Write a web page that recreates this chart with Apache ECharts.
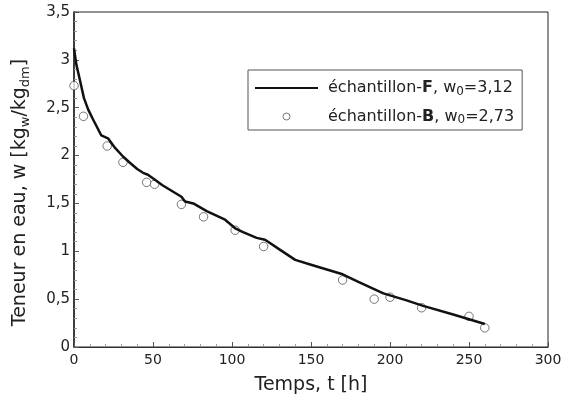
<!DOCTYPE html>
<html><head><meta charset="utf-8">
<script src="https://cdn.jsdelivr.net/npm/echarts@6/dist/echarts.min.js"></script>
<style>html,body{margin:0;padding:0;background:#fff}#c{width:570px;height:400px}</style>
</head><body><div id="c"></div>
<script>
var lineT = [0,1.5,3.6,6.3,9,12,17.3,21.5,26,31,35,40,43.7,46.8,51,56,62,68,70.3,75.5,84,95.6,102,107,115.6,120.9,130,140,150,160,170,180,195.8,210,221,240,260];
var lineW = [3.12,2.95,2.80,2.60,2.48,2.38,2.21,2.18,2.08,1.99,1.93,1.86,1.82,1.80,1.75,1.69,1.63,1.57,1.52,1.50,1.42,1.33,1.24,1.20,1.14,1.12,1.02,0.91,0.86,0.81,0.76,0.68,0.56,0.49,0.43,0.34,0.24];
var ptT = [0,6,21,31,46,51,68,82,102,120,170,190,200,220,250,260];
var ptW = [2.73,2.41,2.10,1.93,1.72,1.70,1.49,1.36,1.22,1.05,0.70,0.50,0.52,0.41,0.32,0.20];
var xTicks = [0,50,100,150,200,250,300];
var yTicks = [0,0.5,1,1.5,2,2.5,3,3.5];

var FONT = 'DejaVu Sans';
function fmt(v){ return String(v).replace('.', ','); }
var lineData = lineT.map(function(t,i){return [t,lineW[i]];});
var ptData = ptT.map(function(t,i){return [t,ptW[i]];});

var chart = echarts.init(document.getElementById('c'), null, {renderer:'canvas'});
chart.setOption({
  animation:false,
  textStyle:{fontFamily:FONT},
  grid:{left:74,right:22,top:12,bottom:50,show:true,borderColor:'#222',borderWidth:1,containLabel:false},
  legend:{
    orient:'vertical', left:248, top:70, width:271,
    backgroundColor:'#fff', borderColor:'#555', borderWidth:1,
    padding:[10,8,4,6], itemGap:11, itemWidth:63, itemHeight:7,
    data:[{name:'F', itemStyle:{opacity:0}},{name:'B', itemStyle:{color:'#fff',borderColor:'#555',borderWidth:1}}],
    formatter:function(n){
      return n==='F' ? 'échantillon-{b|F}, w{s|0}=3,12' : 'échantillon-{b|B}, w{s|0}=2,73';
    },
    textStyle:{fontFamily:FONT,fontSize:16,color:'#222',padding:[0,0,0,5],
      rich:{b:{fontFamily:FONT,fontSize:16,fontWeight:'bold',color:'#222'},
            s:{fontFamily:FONT,fontSize:12,color:'#222',padding:[7,0,0,0]}}}
  },
  xAxis:{
    type:'value', min:0, max:300, interval:50,
    name:'Temps, t [h]', nameLocation:'middle', nameGap:29,
    nameTextStyle:{fontFamily:FONT,fontSize:19,color:'#222'},
    axisLine:{lineStyle:{color:'#333',width:1}},
    axisTick:{inside:true,length:5,lineStyle:{color:'#555'}},
    minorTick:{show:true,splitNumber:5,length:3,lineStyle:{color:'#999'}},
    splitLine:{show:false},
    axisLabel:{fontFamily:FONT,fontSize:14,color:'#222',margin:6,formatter:fmt}
  },
  yAxis:{
    type:'value', min:0, max:3.5, interval:0.5,
    name:'Teneur en eau, w [kg{s|w}/kg{s|dm}]', nameLocation:'middle', nameGap:42, nameRotate:90,
    nameTextStyle:{fontFamily:FONT,fontSize:19,color:'#222',padding:[0,26,0,0],
      rich:{s:{fontFamily:FONT,fontSize:13,color:'#222',padding:[10,0,0,0]}}},
    axisLine:{lineStyle:{color:'#222',width:1.5}},
    axisTick:{inside:true,length:5,lineStyle:{color:'#555'}},
    minorTick:{show:true,splitNumber:5,length:3,lineStyle:{color:'#999'}},
    splitLine:{show:false},
    axisLabel:{fontFamily:FONT,fontSize:15,color:'#222',margin:4,formatter:fmt}
  },
  series:[
    {name:'F',type:'line',data:lineData,symbol:'none',smooth:false,
     lineStyle:{color:'#111',width:2.5},itemStyle:{color:'#111'},z:3},
    {name:'B',type:'scatter',data:ptData,symbol:'circle',symbolSize:8.5,
     itemStyle:{color:'#fff',borderColor:'#555',borderWidth:1},z:2}
  ]
});
</script></body></html>
